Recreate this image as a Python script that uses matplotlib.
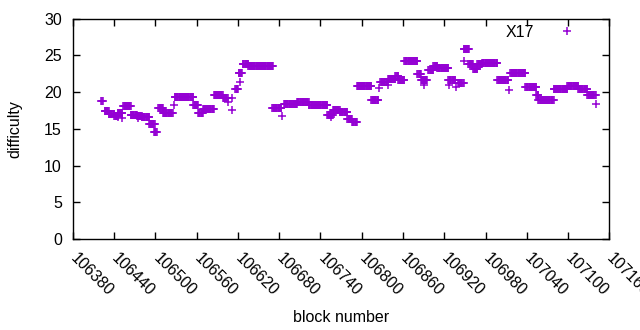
import numpy as np
import matplotlib
matplotlib.use("Agg")
import matplotlib.pyplot as plt

plt.rcParams['font.family'] = ['Liberation Sans', 'DejaVu Sans']

# constant-difficulty runs: first block, last block, difficulty
seg_start = [106421, 106426, 106432, 106440, 106445, 106453, 106464, 106473, 106480, 106491,
             106498, 106504, 106511, 106528, 106555, 106562, 106569, 106585, 106598, 106616,
             106621, 106627, 106635, 106670, 106687, 106706, 106715, 106723, 106750, 106758,
             106768, 106779, 106786, 106793, 106814, 106827, 106838, 106849, 106853, 106862,
             106881, 106886, 106897, 106904, 106910, 106926, 106940, 106948, 106955, 106962,
             106968, 106975, 106997, 107016, 107038, 107054, 107057, 107079, 107099, 107115,
             107128]
seg_end = [106423, 106432, 106440, 106445, 106452, 106464, 106473, 106480, 106491, 106499,
           106502, 106511, 106525, 106555, 106562, 106569, 106585, 106598, 106605, 106620,
           106626, 106635, 106671, 106683, 106706, 106715, 106723, 106750, 106758, 106768,
           106779, 106786, 106793, 106814, 106824, 106838, 106849, 106853, 106862, 106881,
           106886, 106895, 106904, 106910, 106926, 106936, 106948, 106956, 106962, 106968,
           106975, 106997, 107013, 107038, 107054, 107057, 107079, 107099, 107115, 107128,
           107140]
seg_value = [18.8, 17.4, 17.0, 16.8, 17.2, 18.1, 16.9, 16.7, 16.6, 15.7,
             14.6, 17.9, 17.1, 19.3, 18.2, 17.2, 17.7, 19.6, 19.2, 20.5,
             22.6, 23.8, 23.6, 17.8, 18.4, 18.7, 18.6, 18.2, 16.9, 17.6,
             17.3, 16.4, 15.9, 20.8, 18.9, 21.4, 21.8, 22.2, 21.6, 24.2,
             22.5, 21.6, 23.0, 23.6, 23.3, 21.7, 21.3, 25.9, 23.9, 23.2,
             23.9, 24.0, 21.6, 22.6, 20.7, 19.6, 18.9, 20.5, 20.8, 20.5,
             19.6]

# single scattered blocks
single_block = [106445, 106452, 106475, 106527, 106606, 106611, 106612, 106623, 106684,
                106755, 106825, 106838, 106891, 106927, 106937, 106948, 107014, 107140]
single_value = [16.6, 16.5, 16.5, 18.3, 18.6, 19.2, 17.6, 21.4, 16.8,
                16.6, 20.6, 21.0, 21.0, 21.0, 20.7, 24.3, 20.3, 18.4]

xticks = list(range(106380, 107161, 60))
yticks = [0, 5, 10, 15, 20, 25, 30]

blocks = []
diffs = []
for s, e, v in zip(seg_start, seg_end, seg_value):
    run = np.arange(s, e + 1)
    blocks.extend(run)
    diffs.extend([v] * len(run))
blocks.extend(single_block)
diffs.extend(single_value)

color = '#9400d3'
fig = plt.figure(figsize=(6.4, 3.3), dpi=100)
ax = fig.add_axes([0.114, 0.276, 0.838, 0.667])
ax.plot(blocks, diffs, linestyle='none', marker='+', markersize=6,
        markeredgewidth=1.1, color=color, label='X17')

ax.set_xlim(106380, 107160)
ax.set_ylim(0, 30)
ax.set_xticks(xticks)
ax.set_yticks(yticks)
ax.set_xticklabels([str(t) for t in xticks], rotation=-45, ha='left', va='center',
                   rotation_mode='anchor', fontsize=11.5)
for lab in ax.get_yticklabels():
    lab.set_fontsize(11.5)
ax.tick_params(direction='in', length=5, width=1, top=True, right=True, pad=8)
ax.tick_params(axis='x', pad=12)
for sp in ax.spines.values():
    sp.set_linewidth(1)

ax.set_xlabel('block number', fontsize=11.5, labelpad=8)
ax.set_ylabel('difficulty', fontsize=11.5, labelpad=16)

leg = ax.legend(loc='upper right', frameon=False, fontsize=11.5, markerfirst=False,
                handlelength=2.6, borderaxespad=0.1, bbox_to_anchor=(0.975, 1.01))

fig.savefig('out.png', dpi=100)
